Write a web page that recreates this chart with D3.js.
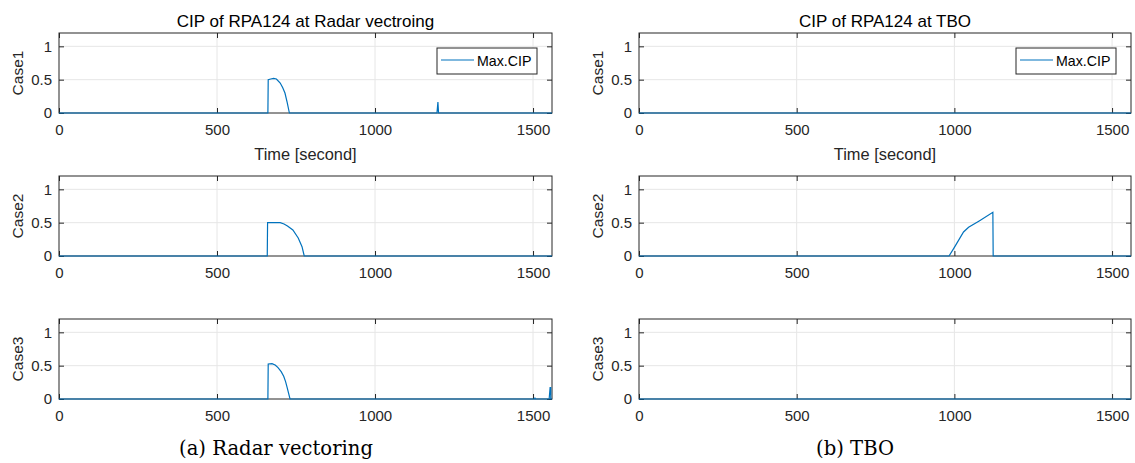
<!DOCTYPE html>
<html><head><meta charset="utf-8">
<script src="https://cdn.jsdelivr.net/npm/d3@7"></script>
<style>body{margin:0;background:#fff}svg{display:block}</style>
</head><body>
<script>
// ---- data ----
const timeTicks = [0, 500, 1000, 1500];
const yTicks = [0, 0.5, 1];
const caseNames = ["Case1", "Case2", "Case3"];
const titles = ["CIP of RPA124 at Radar vectroing", "CIP of RPA124 at TBO"];
const captions = ["(a)  Radar vectoring", "(b)  TBO"];
const legendLabel = "Max.CIP";
const xLabel = "Time [second]";

const radarCase1 = [[0,0],[661,0],[662,0.5],[670,0.51],[679,0.52],[688,0.51],[700,0.45],[708,0.38],[715,0.30],[722,0.16],[729,0],[1196,0],[1199,0.165],[1201,0],[1560,0]];
const radarCase2 = [[0,0],[659,0],[660,0.5],[700,0.5],[712,0.48],[723,0.45],[740,0.39],[757,0.27],[769,0.14],[776,0],[1560,0]];
const radarCase3 = [[0,0],[661,0],[662,0.525],[674,0.53],[684,0.51],[693,0.47],[703,0.41],[711,0.34],[717,0.26],[722,0.17],[731,0],[1505,0],[1506,0.02],[1507,0],[1551,0],[1554,0.17],[1556,0.17],[1556,0],[1560,0]];
const tboCase1 = [[0,0],[1560,0]];
const tboCase2 = [[0,0],[983,0],[1000,0.13],[1029,0.36],[1045,0.43],[1080,0.53],[1122,0.655],[1123,0],[1560,0]];
const tboCase3 = [[0,0],[1560,0]];

const series = [[radarCase1, radarCase2, radarCase3], [tboCase1, tboCase2, tboCase3]];

// ---- layout ----
const W = 1135, H = 463;
const cols = [[59, 552], [639, 1131]];
const rows = [[33, 113], [176, 256], [319, 399]];
const ink = "#262626", gridC = "#e6e6e6", lineC = "#0072BD";
const sans = "'Liberation Sans', Arial, sans-serif";

const svg = d3.select("body").append("svg").attr("width", W).attr("height", H);

cols.forEach((c, ci) => {
  rows.forEach((r, ri) => {
    const x = d3.scaleLinear().domain([0, 1560]).range(c);
    const y = d3.scaleLinear().domain([0, 1.2]).range([r[1], r[0]]);
    const g = svg.append("g");
    // grid
    g.selectAll(".gx").data(timeTicks.filter(t => t > 0)).enter().append("line")
      .attr("x1", d => x(d)).attr("x2", d => x(d)).attr("y1", r[0]).attr("y2", r[1])
      .attr("stroke", gridC).attr("stroke-width", 1);
    g.selectAll(".gy").data(yTicks.filter(t => t > 0)).enter().append("line")
      .attr("y1", d => y(d)).attr("y2", d => y(d)).attr("x1", c[0]).attr("x2", c[1])
      .attr("stroke", gridC).attr("stroke-width", 1);
    // axes
    const ax = g.append("g").attr("transform", `translate(0,${r[1]})`)
      .call(d3.axisBottom(x).tickValues(timeTicks).tickSize(-5).tickPadding(11).tickFormat(d3.format("d")));
    const axT = g.append("g").attr("transform", `translate(0,${r[0]})`)
      .call(d3.axisTop(x).tickValues(timeTicks).tickSize(-5).tickFormat(""));
    const ay = g.append("g").attr("transform", `translate(${c[0]},0)`)
      .call(d3.axisLeft(y).tickValues(yTicks).tickSize(-5).tickPadding(7).tickFormat(d => d === 0.5 ? "0.5" : d3.format("d")(d)));
    const ayR = g.append("g").attr("transform", `translate(${c[1]},0)`)
      .call(d3.axisRight(y).tickValues(yTicks).tickSize(-5).tickFormat(""));
    [ax, axT, ay, ayR].forEach(a => {
      a.select(".domain").remove();
      a.selectAll("line").attr("stroke", ink);
      a.selectAll("text").attr("fill", ink).style("font-family", sans).style("font-size", "15px");
    });
    // box
    g.append("rect").attr("x", c[0]).attr("y", r[0]).attr("width", c[1] - c[0]).attr("height", r[1] - r[0])
      .attr("fill", "none").attr("stroke", ink).attr("stroke-width", 1);
    // line
    const line = d3.line().x(d => x(d[0])).y(d => y(d[1]));
    g.append("path").datum(series[ci][ri]).attr("d", line)
      .attr("fill", "none").attr("stroke", lineC).attr("stroke-width", 1.2);
    // y label
    g.append("text").attr("transform", `translate(${c[0] - 36},${(r[0] + r[1]) / 2}) rotate(-90)`)
      .attr("text-anchor", "middle").attr("fill", ink).style("font-family", sans).style("font-size", "15.5px")
      .text(caseNames[ri]);
    if (ri === 0) {
      // title
      g.append("text").attr("x", (c[0] + c[1]) / 2).attr("y", 26.5).attr("text-anchor", "middle")
        .attr("fill", "#000").style("font-family", sans).style("font-size", "17px").text(titles[ci]);
      // x label
      g.append("text").attr("x", (c[0] + c[1]) / 2).attr("y", 160).attr("text-anchor", "middle")
        .attr("fill", ink).style("font-family", sans).style("font-size", "16.4px").text(xLabel);
      // legend
      const lx = c[1] - 115, ly = r[0] + 15;
      g.append("rect").attr("x", lx).attr("y", ly).attr("width", 100).attr("height", 26)
        .attr("fill", "#fff").attr("stroke", ink).attr("stroke-width", 1);
      g.append("line").attr("x1", lx + 4).attr("x2", lx + 37).attr("y1", ly + 12).attr("y2", ly + 12)
        .attr("stroke", lineC).attr("stroke-width", 1.2);
      g.append("text").attr("x", lx + 40).attr("y", ly + 17.5).attr("fill", "#000")
        .style("font-family", sans).style("font-size", "14.2px").text(legendLabel);
    }
  });
});
// captions (sized so the left caption spans the reference width)
const capFont = "'DejaVu Serif', 'Liberation Serif', serif";
const capEls = [276, 855].map((cx, i) => svg.append("text").attr("x", cx).attr("y", 455)
  .attr("text-anchor", "middle").attr("fill", "#000")
  .style("font-family", capFont).style("font-size", "16px").text(captions[i]));
const w0 = capEls[0].node().getComputedTextLength();
const capSize = 16 * 194 / w0;
capEls.forEach(e => e.style("font-size", capSize + "px"));
</script>
</body></html>
